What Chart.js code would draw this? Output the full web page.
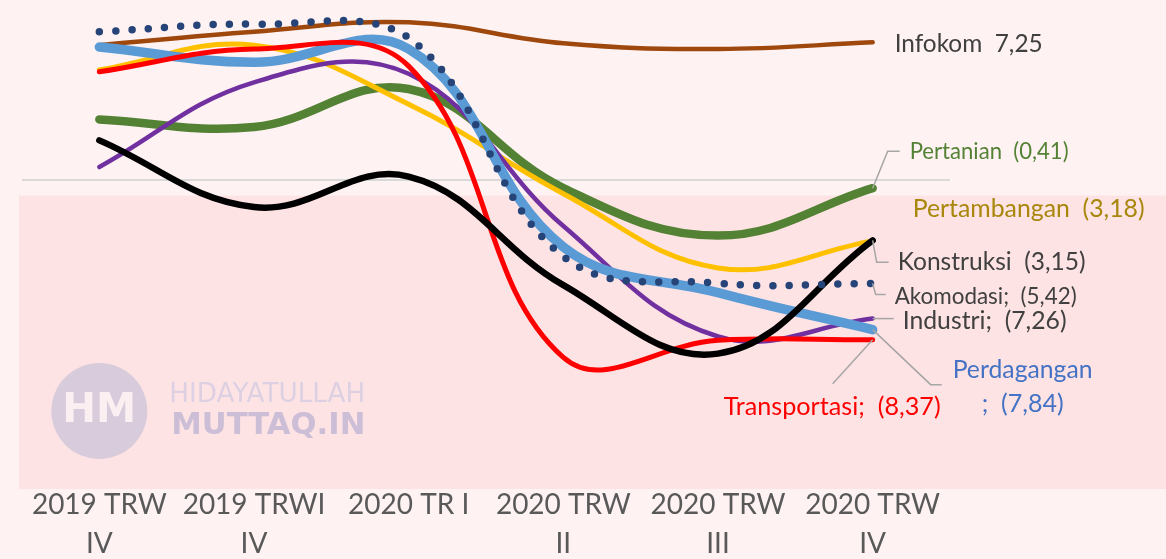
<!DOCTYPE html>
<html>
<head>
<meta charset="utf-8">
<script src="https://cdn.jsdelivr.net/npm/chart.js@4/dist/chart.umd.min.js"></script>
<style>
  html, body { margin: 0; padding: 0; background: #FEF2F2; }
  canvas { display: block; }
</style>
</head>
<body>
<canvas id="chart" width="1166" height="559"></canvas>
<script>
// -------------------- Data --------------------
const categories = [
  ["2019 TRW", "IV"], ["2019 TRWI", "IV"], ["2020 TR I"],
  ["2020 TRW", "II"], ["2020 TRW", "III"], ["2020 TRW", "IV"]
];

const infokom      = [7.1, 7.8, 8.3, 7.2, 6.9, 7.25];
const pertanian    = [3.2, 2.8, 4.8, -0.4, -2.9, -0.41];
const pertambangan = [5.8, 7.1, 4.0, -0.7, -4.6, -3.18];
const konstruksi   = [2.1, -1.4, 0.2, -5.5, -9.1, -3.15];
const akomodasi    = [7.8, 8.2, 7.5, -4.0, -5.4, -5.42];
const industri     = [0.7, 5.15, 5.6, -2.4, -8.2, -7.26];
const perdagangan  = [7.0, 6.2, 6.9, -3.5, -5.9, -7.84];
const transportasi = [5.7, 6.9, 6.0, -9.3, -8.4, -8.37];

const seriesNames = ["Infokom", "Pertanian", "Pertambangan", "Konstruksi",
                     "Akomodasi", "Industri", "Perdagangan", "Transportasi"];
const endLabels = [
  ["Infokom  7,25"], ["Pertanian  (0,41)"], ["Pertambangan  (3,18)"], ["Konstruksi  (3,15)"],
  ["Akomodasi;  (5,42)"], ["Industri;  (7,26)"], ["Perdagangan", ";  (7,84)"], ["Transportasi;  (8,37)"]
];

// -------------------- Styles --------------------
const FONT = "Lato, 'Open Sans', sans-serif";

// label offsets from the last point of each series
const labelStyle = [
  { color: "#404040", texts: [{ dx: 22, dy: 2, w: 148 }] },
  { color: "#548235", leader: [[0, 0], [15, -37], [27, -37]], texts: [{ dx: 37, dy: -36, w: 159 }] },
  { color: "#A8870C", texts: [{ dx: 40, dy: -32, w: 232 }] },
  { color: "#404040", leader: [[0, 0], [4, 22], [16, 22]], texts: [{ dx: 25, dy: 22, w: 188 }] },
  { color: "#404040", leader: [[0, 0], [3, 11], [13, 11]], texts: [{ dx: 22, dy: 13, w: 182 }] },
  { color: "#404040", leader: [[0, 0], [21, 0]], texts: [{ dx: 30, dy: 2, w: 164 }] },
  { color: "#4472C4", leader: [[0, 0], [58, 55], [69, 55]], texts: [{ dx: 80, dy: 40, w: 140 }, { dx: 109, dy: 74, w: 82 }] },
  { color: "#FF0000", leader: [[0, 0], [-40, 44]], texts: [{ dx: -149, dy: 67, w: 217 }] }
];

function line(label, data, color, width, order, extra) {
  return Object.assign({
    label, data, borderColor: color, backgroundColor: color, borderWidth: width,
    pointRadius: 0, pointHoverRadius: 0, tension: 0.4, fill: false, order,
    borderCapStyle: "round", borderJoinStyle: "round"
  }, extra || {});
}

const datasets = [
  line(seriesNames[0], infokom, "#9E480E", 4.5, 5),
  line(seriesNames[1], pertanian, "#548235", 8.5, 8),
  line(seriesNames[2], pertambangan, "#FFC000", 5, 7),
  line(seriesNames[3], konstruksi, "#000000", 6.5, 2),
  line(seriesNames[4], akomodasi, "#264478", 7.5, 1, { borderDash: [0, 16.3] }),
  line(seriesNames[5], industri, "#7030A0", 4.5, 6),
  line(seriesNames[6], perdagangan, "#5B9BD5", 9.5, 4),
  line(seriesNames[7], transportasi, "#FF0000", 5, 3)
];

function fitText(ctx, text, x, y, width, family, weight, color) {
  ctx.font = weight + " 20px " + family;
  const size = 20 * width / ctx.measureText(text).width;
  ctx.font = weight + " " + size.toFixed(2) + "px " + family;
  ctx.fillStyle = color;
  ctx.fillText(text, x, y);
}

// -------------------- Plugins --------------------
const backdrop = {
  id: "backdrop",
  beforeDraw(chart) {
    const { ctx, chartArea, scales } = chart;
    ctx.save();
    ctx.fillStyle = "#FEF2F2";
    ctx.fillRect(0, 0, chart.width, chart.height);
    const top = scales.y.getPixelForValue(-0.8);
    ctx.fillStyle = "#FEE3E4";
    ctx.fillRect(19, top, chart.width - 19, chartArea.bottom + 4 - top);
    ctx.restore();
  },
  beforeDatasetsDraw(chart) {
    // watermark
    const { ctx } = chart;
    const cx = chart.scales.x.getPixelForValue(0), cy = 411;
    ctx.save();
    ctx.fillStyle = "#D8CBDB";
    ctx.beginPath();
    ctx.arc(cx, cy, 48, 0, Math.PI * 2);
    ctx.fill();
    ctx.textAlign = "left";
    ctx.textBaseline = "middle";
    fitText(ctx, "HM", cx - 37, cy + 1, 74, "'DejaVu Sans', sans-serif", "bold", "#FCEFF1");
    fitText(ctx, "HIDAYATULLAH", cx + 70, cy - 16, 196, "'DejaVu Sans', sans-serif", "normal", "#DCD0E2");
    fitText(ctx, "MUTTAQ.IN", cx + 72, cy + 15, 194, "'DejaVu Sans', sans-serif", "bold", "#CBBED6");
    ctx.restore();
  },
  afterDatasetsDraw(chart) {
    const { ctx } = chart;
    ctx.save();
    labelStyle.forEach((st, i) => {
      const pt = chart.getDatasetMeta(i).data[5];
      if (!pt) return;
      if (st.leader) {
        ctx.strokeStyle = "#A6A6A6";
        ctx.lineWidth = 1.5;
        ctx.beginPath();
        st.leader.forEach(([dx, dy], k) => {
          if (k === 0) ctx.moveTo(pt.x + dx, pt.y + dy);
          else ctx.lineTo(pt.x + dx, pt.y + dy);
        });
        ctx.stroke();
      }
      st.texts.forEach((t, k) => {
        ctx.textAlign = "left";
        ctx.textBaseline = "middle";
        fitText(ctx, endLabels[i][k], pt.x + t.dx, pt.y + t.dy, t.w, FONT, "normal", st.color);
      });
    });
    ctx.restore();
  }
};

// -------------------- Chart --------------------
new Chart(document.getElementById("chart"), {
  type: "line",
  data: { labels: categories, datasets },
  plugins: [backdrop],
  options: {
    responsive: false,
    animation: false,
    layout: { padding: { left: 22, right: 216, top: 9, bottom: 0 } },
    plugins: { legend: { display: false }, tooltip: { enabled: false } },
    scales: {
      x: {
        offset: true,
        grid: { display: false, drawTicks: false },
        border: { display: false },
        ticks: {
          color: "#595959", padding: 1, maxRotation: 0, autoSkip: false,
          font: { family: FONT, size: 28, lineHeight: 1.38 }
        },
        afterFit(scale) { scale.height = 74; }
      },
      y: {
        min: -16, max: 9,
        border: { display: false },
        grid: {
          drawTicks: false, lineWidth: 2,
          color: (c) => (c.tick && c.tick.value === 0 ? "#D9D9D9" : "rgba(0,0,0,0)")
        },
        ticks: { display: false, stepSize: 1 },
        afterFit(scale) { scale.width = 0; }
      }
    }
  }
});
</script>
</body>
</html>
